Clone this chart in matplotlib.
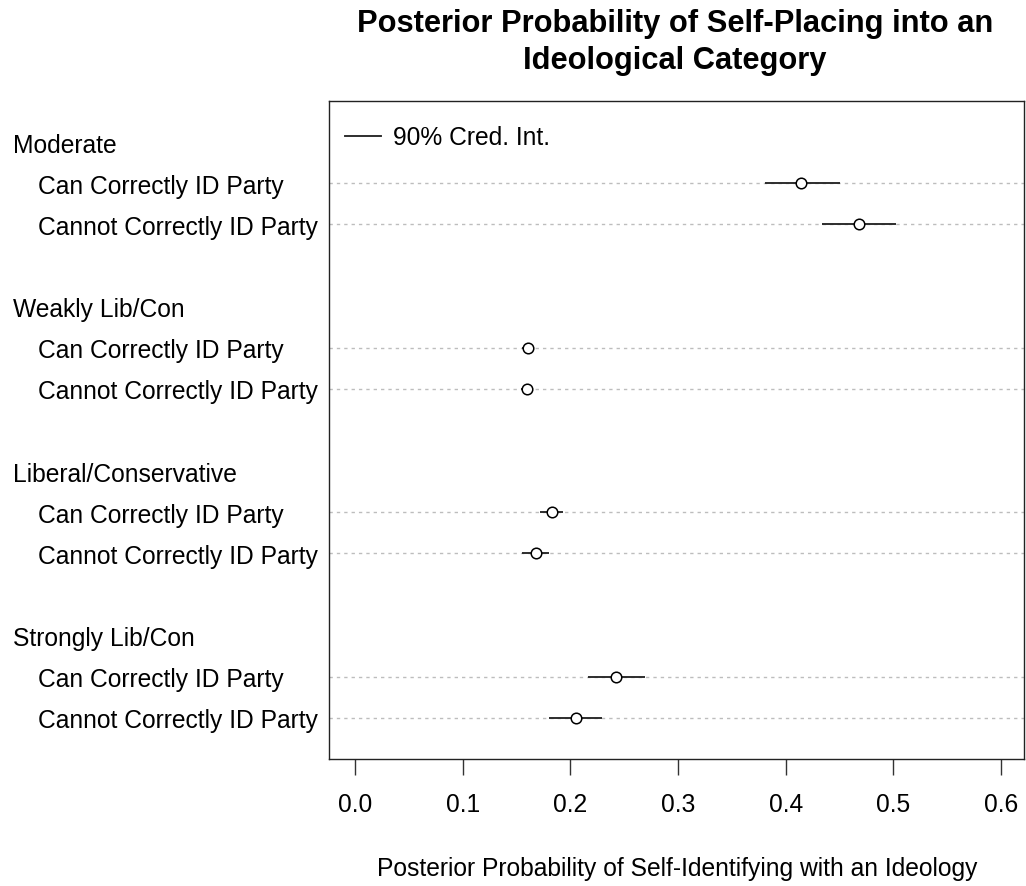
import matplotlib
matplotlib.use("Agg")
import matplotlib.pyplot as plt
import matplotlib.transforms as mtransforms
from matplotlib.lines import Line2D

plt.rcParams['font.family'] = ['Liberation Sans', 'DejaVu Sans']

# Ideological categories and respondent subgroups
groups = ["Moderate", "Weakly Lib/Con", "Liberal/Conservative", "Strongly Lib/Con"]
subgroups = ["Can Correctly ID Party", "Cannot Correctly ID Party"]

# Posterior medians and 90% credible bounds, [can, cannot] per category
median = [[0.414, 0.468], [0.161, 0.160], [0.183, 0.168], [0.242, 0.205]]
lower = [[0.381, 0.434], [0.155, 0.154], [0.172, 0.155], [0.216, 0.180]]
upper = [[0.450, 0.502], [0.166, 0.165], [0.193, 0.180], [0.269, 0.229]]

xticks = [0.0, 0.1, 0.2, 0.3, 0.4, 0.5, 0.6]
title = "Posterior Probability of Self-Placing into an\nIdeological Category"
xlabel = "Posterior Probability of Self-Identifying with an Ideology"
legend_label = "90% Cred. Int."

W, H = 1026, 886
fig = plt.figure(figsize=(W / 100, H / 100), dpi=100)
ax_l, ax_r, ax_t, ax_b = 329, 1024, 101, 759
ax = fig.add_axes([ax_l / W, 1 - ax_b / H, (ax_r - ax_l) / W, (ax_b - ax_t) / H])

ax.set_xlim(-0.0241, 0.6212)
ax.set_ylim(0, 16)

label_fs = 17.7
lab_tr = mtransforms.blended_transform_factory(fig.transFigure, ax.transData)
lab_tr = lab_tr + mtransforms.ScaledTranslation(0, -10.5 / 100, fig.dpi_scale_trans)

for g, name in enumerate(groups):
    header_y = 15 - 4 * g
    ax.text(13 / W, header_y, name, transform=lab_tr, ha='left', va='baseline',
            fontsize=label_fs, color='black', clip_on=False)
    for s, sub in enumerate(subgroups):
        y = header_y - 1 - s
        ax.axhline(y, color='#bdbdbd', lw=1.0, ls=(0, (2.4, 2.9)), zorder=1)
        ax.plot([lower[g][s], upper[g][s]], [y, y], color='#262626', lw=1.35,
                solid_capstyle='butt', zorder=2)
        ax.plot([median[g][s]], [y], marker='o', ms=7.6, mfc='white',
                mec='black', mew=1.1, ls='none', zorder=3)
        ax.text(38 / W, y, sub, transform=lab_tr, ha='left', va='baseline',
                fontsize=label_fs, color='black', clip_on=False)

ax.set_yticks([])
ax.set_xticks(xticks)
ax.set_xticklabels([f"{t:.1f}" for t in xticks])
ax.tick_params(axis='x', length=11.5, width=1.0, pad=13, labelsize=label_fs,
               color='#333333', labelcolor='black')
for sp in ax.spines.values():
    sp.set_linewidth(1.0)
    sp.set_color('#222222')

handle = Line2D([], [], color='#262626', lw=1.35)
ax.legend([handle], [legend_label], loc='center left',
          bbox_to_anchor=((345 - ax_l) / (ax_r - ax_l), (ax_b - 138) / (ax_b - ax_t)),
          frameon=False, fontsize=label_fs, handlelength=1.45, handletextpad=0.5,
          borderpad=0, borderaxespad=0)

fig.text(675 / W, 1 - 9 / H, title, ha='center', va='top', fontsize=22.2,
         fontweight='bold', linespacing=1.3)
fig.text(677 / W, 1 - 876 / H, xlabel, ha='center', va='baseline', fontsize=label_fs)

fig.savefig("out.png", dpi=100)
